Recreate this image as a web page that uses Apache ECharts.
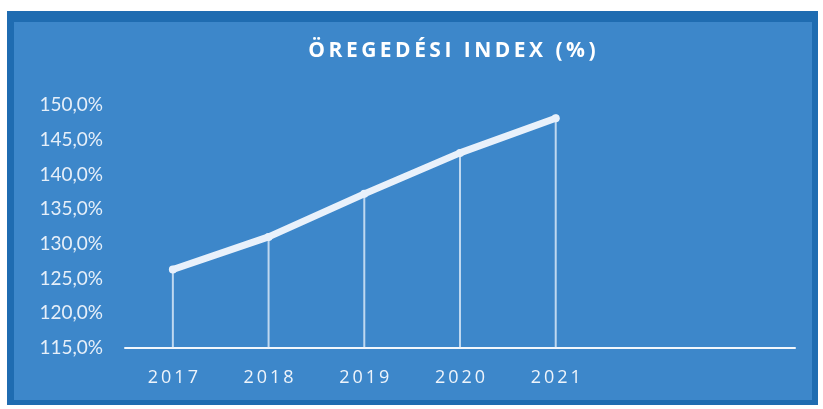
<!DOCTYPE html>
<html>
<head>
<meta charset="utf-8">
<script src="https://cdn.jsdelivr.net/npm/echarts@6/dist/echarts.min.js"></script>
<style>
  html, body { margin: 0; padding: 0; background: #ffffff; }
  #chart { width: 823px; height: 409px; }
</style>
</head>
<body>
<div id="chart"></div>
<script>
// categories: two empty slots at the end, as in the original sheet
const years = ['2017', '2018', '2019', '2020', '2021', '', '']
const agingIndex = [126.3, 131.0, 137.2, 143.1, 148.1]
const yTicks = { min: 115, max: 150, step: 5 }

const chart = echarts.init(document.getElementById('chart'))

const fmtPct = (v) => v.toFixed(1).replace('.', ',') + '%'
// loose letter spacing like the original title
const spaced = (s) => s.split('').join('\u2009')

const option = {
  backgroundColor: '#ffffff',
  animation: false,
  graphic: [
    {
      type: 'rect',
      shape: { x: 7, y: 11, width: 811, height: 394 },
      style: { fill: '#1f6cb1' },
      silent: true,
      z: -10,
    },
    {
      type: 'rect',
      shape: { x: 14, y: 22, width: 798, height: 378 },
      style: { fill: '#3d87ca' },
      silent: true,
      z: -9,
    },
  ],
  title: {
    text: spaced('ÖREGEDÉSI INDEX (%)'),
    left: 447,
    top: 36,
    textAlign: 'center',
    textStyle: {
      color: '#ffffff',
      fontFamily: 'Open Sans',
      fontWeight: 'bold',
      fontSize: 21,
    },
  },
  grid: {
    left: 125,
    right: 28,
    top: 105,
    bottom: 61,
    containLabel: false,
  },
  xAxis: {
    type: 'category',
    data: years,
    boundaryGap: true,
    axisLine: { show: true, lineStyle: { color: '#f2f7fc', width: 2 } },
    axisTick: { show: false },
    axisLabel: {
      color: '#eef4fb',
      fontFamily: 'Open Sans',
      fontSize: 18,
      margin: 21,
      formatter: (v) => v.split('').join('\u2009'),
    },
  },
  yAxis: {
    type: 'value',
    min: yTicks.min,
    max: yTicks.max,
    interval: yTicks.step,
    axisLine: { show: false },
    axisTick: { show: false },
    splitLine: { show: false },
    axisLabel: {
      color: '#e6eff9',
      fontFamily: 'Lato',
      fontSize: 19,
      margin: 22,
      formatter: fmtPct,
    },
  },
  series: [
    {
      // thin drop lines from each point down to the axis
      type: 'bar',
      data: agingIndex,
      barWidth: 2,
      itemStyle: { color: 'rgba(235, 243, 252, 0.75)' },
      z: 2,
    },
    {
      type: 'line',
      data: agingIndex,
      symbol: 'circle',
      symbolSize: 8,
      itemStyle: { color: '#e9f1fb' },
      lineStyle: { color: '#e9f1fb', width: 7, cap: 'round' },
      z: 3,
    },
  ],
}

chart.setOption(option)
</script>
</body>
</html>
